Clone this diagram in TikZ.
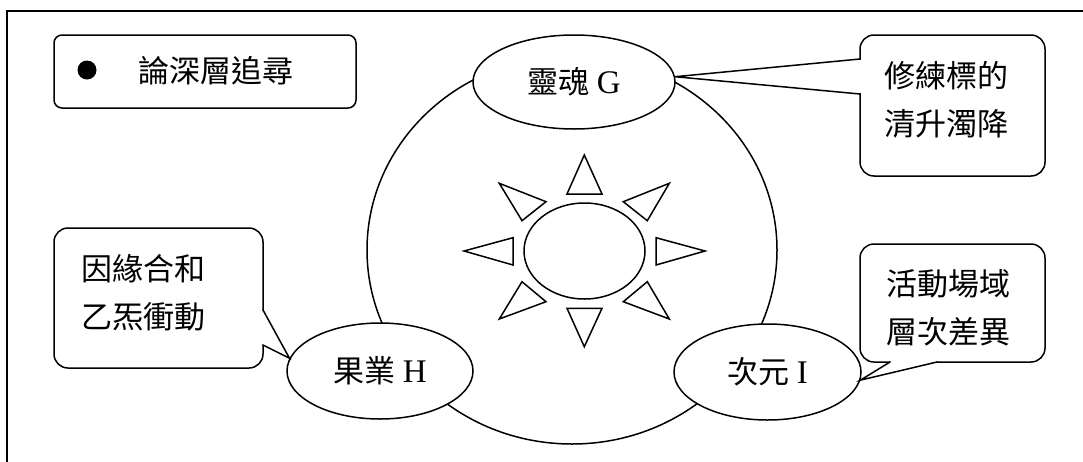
\documentclass[tikz,border=0pt]{standalone}
\usepackage{fontspec}
\setmainfont{Liberation Serif}
\newfontfamily\cjk{Noto Sans CJK TC}
\usetikzlibrary{shapes.geometric}
\newcommand{\latn}[1]{{\fontsize{33}{48}\selectfont #1}}
\begin{document}
\begin{tikzpicture}[x=1pt,y=-1pt,line width=1.5pt,
  txt/.style={font=\fontsize{31}{48}\selectfont, inner sep=0pt, align=left},
  oval/.style={draw, fill=white, ellipse, inner sep=0pt, font=\fontsize{31}{48}\selectfont},
  bubble/.style={draw, fill=white, rounded corners=14pt},
  tip/.style={line cap=round, line join=miter},
  ray/.style={line join=miter}]
\useasboundingbox (0,0) rectangle (1083,461);
% outer frame
\draw (7,11) rectangle (1120,490);
% legend box
\node[draw, rounded corners=8pt, minimum width=302pt, minimum height=73pt, inner sep=0pt] (legend) at (205,71.5) {};
\fill (87,70) circle (9.5);
\node[txt] (title) at (215.5,71) {\cjk 論深層追尋};
% big ellipse
\draw (572,250) ellipse [x radius=205, y radius=194];
% sun
\draw (584.5,251) ellipse [x radius=60.5, y radius=48];
\draw[ray] (584.3,155) -- (567,194) -- (602,194) -- cycle;
\draw[ray] (584.3,346.7) -- (567,308.3) -- (602,308.3) -- cycle;
\draw[ray] (464,251) -- (513,237.7) -- (513,265) -- cycle;
\draw[ray] (705,251) -- (656,237.7) -- (656,265) -- cycle;
\draw[ray] (499.3,183.3) -- (546,201.7) -- (522,220.7) -- cycle;
\draw[ray] (669.3,183.3) -- (623.3,201.7) -- (647.3,220.7) -- cycle;
\draw[ray] (522,281.7) -- (546,301.7) -- (499.3,319) -- cycle;
\draw[ray] (647.3,281.7) -- (623.3,301.7) -- (669.3,319) -- cycle;
% ovals
\node[oval, minimum width=202pt, minimum height=94pt] (G) at (574,82) {{\cjk 靈魂} \latn{G}};
\node[oval, minimum width=186pt, minimum height=96pt] (H) at (380,371) {{\cjk 果業} \latn{H}};
\node[oval, minimum width=187pt, minimum height=96pt] (I) at (767.5,372) {{\cjk 次元} \latn{I}};
% callout 1
\draw[bubble] (860,35) rectangle (1045,176);
\fill[white] (859,59.8) rectangle (862,93.2);
\fill[white] (860,59) -- (G.3) -- (860,94) -- cycle;
\draw[tip] (860,59) -- (G.3) -- (860,94);
\node[txt, anchor=west] (t1) at (883.5,100) {\cjk 修練標的\\\cjk 清升濁降};
% callout 2
\draw[bubble] (54,228) rectangle (263,368);
\fill[white] (261,310.8) rectangle (264,344.2);
\fill[white] (263,310) -- (H.172) -- (263,345) -- cycle;
\draw[tip] (263,310) -- (H.172) -- (263,345);
\node[txt, anchor=west] (t2) at (80.5,292.5) {\cjk 因緣合和\\\cjk 乙炁衝動};
% callout 3
\draw[bubble] (860,244) rectangle (1045,362);
\fill[white] (890.8,361) rectangle (936.2,364);
\fill[white] (890,362) -- (I.355) -- (937,362) -- cycle;
\draw[tip] (890,362) -- (I.355) -- (937,362);
\node[txt, anchor=west] (t3) at (885.5,307.5) {\cjk 活動場域\\\cjk 層次差異};
\end{tikzpicture}
\end{document}
